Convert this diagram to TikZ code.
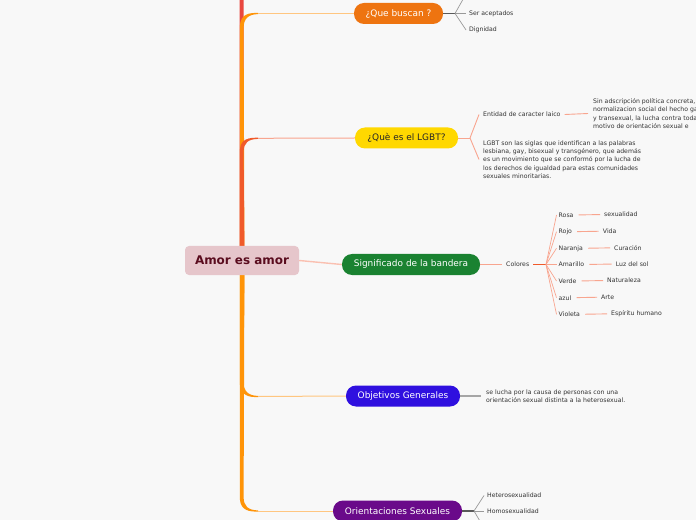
\documentclass[tikz,border=0pt]{standalone}
\usepackage{fontspec}
\setmainfont{DejaVu Sans}
\usetikzlibrary{positioning}

\definecolor{bgcol}{HTML}{F8F8F8}
\definecolor{rootfill}{HTML}{E6C6CB}
\definecolor{roottext}{HTML}{5A0C1E}
\definecolor{leaftext}{HTML}{333333}
\definecolor{redtrunk}{HTML}{E9473F}
\definecolor{orangetrunk}{HTML}{FF9408}
\definecolor{lgbttrunk}{HTML}{F05A2A}
\definecolor{orangelight}{HTML}{FFC680}
\definecolor{salmonlight}{HTML}{F8A58F}
\definecolor{qbfill}{HTML}{EE7410}
\definecolor{lgbtfill}{HTML}{FFD800}
\definecolor{sigfill}{HTML}{1A8231}
\definecolor{objfill}{HTML}{2F10DF}
\definecolor{orifill}{HTML}{6A0A8A}

\tikzset{
  rootbox/.style={fill=rootfill, text=roottext, rounded corners=4bp, minimum width=114bp,
    minimum height=29bp, inner sep=0, font=\fontsize{12}{14}\selectfont\bfseries},
  topic/.style={rounded corners=10bp, minimum height=21bp, inner sep=0,
    font=\fontsize{9}{11}\selectfont},
  leaf/.style={anchor=west, inner sep=0, text=leaftext, font=\fontsize{6.2}{8.3}\selectfont},
  para/.style={leaf, align=left},
  darkstub/.style={draw=black!65, line width=1.3bp},
  greystub/.style={draw=black!35, line width=1.2bp},
  greyfan/.style={draw=black!40, line width=0.7bp},
  salmonline/.style={draw=salmonlight, line width=0.9bp},
  forkred/.style={draw=lgbttrunk, line width=1.5bp},
}

\begin{document}
\begin{tikzpicture}[x=1bp,y=-1bp]
\useasboundingbox (0,0) rectangle (696,520);
\clip (0,0) rectangle (696,520);
\fill[bgcol] (0,0) rectangle (696,520);

% trunks out of the root
\fill[redtrunk] (239.6,250) -- (239.6,-5) -- (243.6,-5) -- (243.8,250) -- cycle;
\fill[orangetrunk] (239.8,250) -- (239.8,28) .. controls (239.8,17) and (245,12.9) .. (256,12.9)
  -- (258,12.9) -- (258,14.1) .. controls (248,14.3) and (243.6,19) .. (243.6,28) -- (244.4,250) -- cycle;
\fill[lgbttrunk] (239.8,250) -- (239.8,152) .. controls (239.8,141.5) and (245,137.7) .. (256,137.7)
  -- (258,137.7) -- (258,138.9) .. controls (248,139.1) and (243.6,143) .. (243.6,152) -- (244.4,250) -- cycle;
\fill[orangetrunk] (239.8,272) -- (239.8,382) .. controls (239.8,392.5) and (245,397.1) .. (256,397.1)
  -- (258,397.1) -- (258,395.9) .. controls (248,395.7) and (243.6,391) .. (243.6,382) -- (244.4,272) -- cycle;
\fill[orangetrunk] (239.8,272) -- (239.8,497) .. controls (239.8,507.5) and (245,511.6) .. (256,511.6)
  -- (258,511.6) -- (258,510.4) .. controls (248,510.2) and (243.6,506) .. (243.6,497) -- (244.4,272) -- cycle;
\coordinate (qbk) at (258,13.5);
\coordinate (lgk) at (258,138.3);
\coordinate (objk) at (258,396.5);
\coordinate (orik) at (258,511);

% main nodes
\node[rootbox] (root) at (242,260.5) {Amor es amor};
\node[topic, fill=qbfill, text=white, minimum width=89bp] (qb) at (398.5,13.5) {¿Que buscan ?};
\node[topic, fill=lgbtfill, text=black!85, minimum width=103bp] (lgbt) at (406.5,138) {¿Què es el LGBT?};
\node[topic, fill=sigfill, text=white, minimum width=138bp] (sig) at (411,264.5) {Significado de la bandera};
\node[topic, fill=objfill, text=white, minimum width=114bp] (obj) at (403,396) {Objetivos Generales};
\node[topic, fill=orifill, text=white, minimum width=129bp] (ori) at (397.5,511) {Orientaciones Sexuales};

\draw[orangelight, line width=1bp] (qbk) -- (qb.west);
\draw[salmonlight, line width=1bp] (lgk) -- (lgbt.west);
\draw[orangelight, line width=1bp] (objk) -- (obj.west);
\draw[orangelight, line width=1bp] (orik) -- (ori.west);
\draw[salmonlight!70, line width=1.4bp] (root.east) -- (sig.west);

% ¿Que buscan ?
\coordinate (qbfork) at (455,13.5);
\coordinate (qbtop) at (466,-6);
\node[leaf] (acep) at (469,13.5) {Ser aceptados};
\node[leaf] (dign) at (469,30) {Dignidad};
\draw[darkstub] (qb.east) -- (qbfork);
\draw[greyfan] (qbfork) -- (qbtop);
\draw[greyfan] (qbfork) -- ([xshift=-3bp]acep.west);
\draw[greyfan] (qbfork) -- ([xshift=-3bp]dign.west);

% ¿Què es el LGBT?
\coordinate (lgfork) at (470,138);
\node[leaf] (laico) at (483,114.5) {Entidad de caracter laico};
\node[para] (sigla) at (483,159.5) {LGBT son las siglas que identifican a las palabras\\
  lesbiana, gay, bisexual y transgénero, que además\\
  es un movimiento que se conformó por la lucha de\\
  los derechos de igualdad para estas comunidades\\
  sexuales minoritarias.};
\node[para] (adscr) at (593,113.5) {Sin adscripción política concreta,\\
  normalizacion social del hecho gay\\
  y transexual, la lucha contra toda\\
  motivo de orientación sexual e};
\draw[salmonline] (lgbt.east) -- (lgfork);
\draw[salmonline] (lgfork) -- ([xshift=-4bp]laico.west);
\draw[salmonline] (lgfork) -- ([xshift=-4bp]sigla.west);
\draw[salmonline] ([xshift=4bp]laico.east) -- ([xshift=-5bp]adscr.west);

% Significado de la bandera
\node[leaf] (colores) at (506,264.5) {Colores};
\coordinate (cfork) at (546,264.5);
\draw[salmonline] (sig.east) -- ([xshift=-4bp]colores.west);
\draw[forkred] ([xshift=4bp]colores.east) -- (cfork);
\foreach \col/\mean/\yy/\mx [count=\i] in {Rosa/sexualidad/215/604, Rojo/Vida/231.7/602.7,
    Naranja/Curación/248.3/614, Amarillo/Luz del sol/264.5/615.7, Verde/Naturaleza/281/607,
    azul/Arte/297.7/601, Violeta/Espíritu humano/314.3/611} {
  \node[leaf] (c\i) at (558.5,\yy) {\col};
  \node[leaf] (m\i) at (\mx,\yy-0.5) {\mean};
  \draw[salmonline, line width=0.7bp] (cfork) -- ([xshift=-2bp]c\i.west);
  \draw[salmonline, shorten <=5bp, shorten >=4bp] (c\i.east) -- (m\i.west);
}

% Objetivos Generales
\node[para] (lucha) at (486,396) {se lucha por la causa de personas con una\\
  orientación sexual distinta a la heterosexual.};
\draw[greystub] (obj.east) -- ([xshift=-5bp]lucha.west);

% Orientaciones Sexuales
\coordinate (orfork) at (474,511);
\coordinate (orbot) at (484,528);
\node[leaf] (hetero) at (487,495.5) {Heterosexualidad};
\node[leaf] (homo) at (487,511) {Homosexualidad};
\draw[darkstub] (ori.east) -- (orfork);
\draw[greyfan] (orfork) -- ([xshift=-3bp]hetero.west);
\draw[greyfan] (orfork) -- ([xshift=-3bp]homo.west);
\draw[greyfan] (orfork) -- (orbot);
\end{tikzpicture}
\end{document}
